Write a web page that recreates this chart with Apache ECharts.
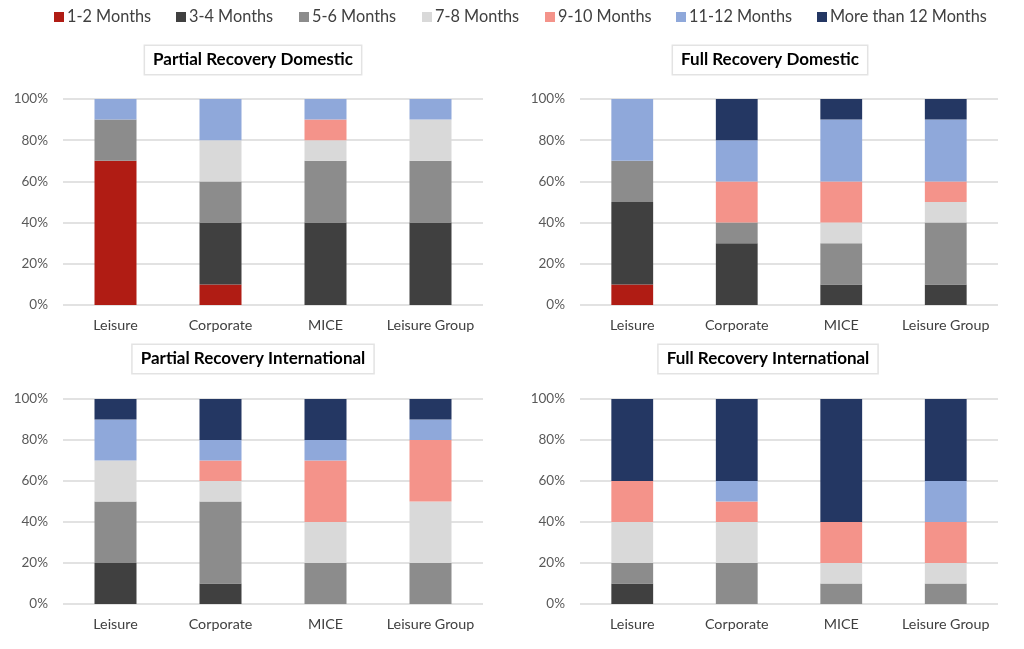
<!DOCTYPE html>
<html><head><meta charset="utf-8">
<script src="https://cdn.jsdelivr.net/npm/echarts@6/dist/echarts.min.js"></script>
<style>html,body{margin:0;padding:0;background:#fff}#c{width:1024px;height:649px}</style>
</head><body><div id="c"></div>
<script>
var categories = ['Leisure', 'Corporate', 'MICE', 'Leisure Group'];
var seriesNames = ['1-2 Months', '3-4 Months', '5-6 Months', '7-8 Months', '9-10 Months', '11-12 Months', 'More than 12 Months'];
var yTicks = [0, 20, 40, 60, 80, 100];
var panelTitles = ['Partial Recovery Domestic', 'Full Recovery Domestic', 'Partial Recovery International', 'Full Recovery International'];

// values per series, per category (Leisure, Corporate, MICE, Leisure Group)
var partialDomestic = {
  '1-2 Months':          [70, 10, 0, 0],
  '3-4 Months':          [0, 30, 40, 40],
  '5-6 Months':          [20, 20, 30, 30],
  '7-8 Months':          [0, 20, 10, 20],
  '9-10 Months':         [0, 0, 10, 0],
  '11-12 Months':        [10, 20, 10, 10],
  'More than 12 Months': [0, 0, 0, 0]
};
var fullDomestic = {
  '1-2 Months':          [10, 0, 0, 0],
  '3-4 Months':          [40, 30, 10, 10],
  '5-6 Months':          [20, 10, 20, 30],
  '7-8 Months':          [0, 0, 10, 10],
  '9-10 Months':         [0, 20, 20, 10],
  '11-12 Months':        [30, 20, 30, 30],
  'More than 12 Months': [0, 20, 10, 10]
};
var partialInternational = {
  '1-2 Months':          [0, 0, 0, 0],
  '3-4 Months':          [20, 10, 0, 0],
  '5-6 Months':          [30, 40, 20, 20],
  '7-8 Months':          [20, 10, 20, 30],
  '9-10 Months':         [0, 10, 30, 30],
  '11-12 Months':        [20, 10, 10, 10],
  'More than 12 Months': [10, 20, 20, 10]
};
var fullInternational = {
  '1-2 Months':          [0, 0, 0, 0],
  '3-4 Months':          [10, 0, 0, 0],
  '5-6 Months':          [10, 20, 10, 10],
  '7-8 Months':          [20, 20, 10, 10],
  '9-10 Months':         [20, 10, 20, 20],
  '11-12 Months':        [0, 10, 0, 20],
  'More than 12 Months': [40, 40, 60, 40]
};
var panels = [partialDomestic, fullDomestic, partialInternational, fullInternational];

var colors = ['#B01C14', '#404040', '#8C8C8C', '#D9D9D9', '#F4938A', '#8FA8DA', '#243763'];
var FONT = 'Lato, "Open Sans", sans-serif';

var gridPos = [
  {left: 63, top: 99, width: 420, height: 206},
  {left: 580, top: 99, width: 418, height: 206},
  {left: 63, top: 399, width: 420, height: 205},
  {left: 580, top: 399, width: 418, height: 205}
];
var titlePos = [[253, 60], [770, 60], [253, 359], [768, 359]];
var legendLeft = [49, 171, 294, 417, 540, 671, 812];

var xAxes = [], yAxes = [], series = [], legends = [], graphics = [];
gridPos.forEach(function (g, i) {
  xAxes.push({
    type: 'category', gridIndex: i, data: categories,
    axisLine: {show: false}, axisTick: {show: false},
    axisLabel: {interval: 0, hideOverlap: false, color: '#404040', fontSize: 14.3, fontFamily: FONT, margin: 13}
  });
  yAxes.push({
    type: 'value', gridIndex: i, min: 0, max: 100, interval: 20,
    axisLine: {show: false}, axisTick: {show: false},
    splitLine: {lineStyle: {color: '#D9D9D9', width: 1.5}},
    axisLabel: {color: '#595959', fontSize: 13.5, fontFamily: FONT, margin: 15,
      formatter: function (v) { return v + '%'; }}
  });
  seriesNames.forEach(function (n, k) {
    series.push({
      name: n, type: 'bar', stack: 's' + i, xAxisIndex: i, yAxisIndex: i,
      barWidth: '40%', data: panels[i][n], itemStyle: {color: colors[k]},
      emphasis: {disabled: true}
    });
  });
  graphics.push({
    type: 'text', x: titlePos[i][0], y: titlePos[i][1],
    style: {
      text: panelTitles[i], fontSize: 17, fontWeight: 'bold', fontFamily: FONT,
      fill: '#000', align: 'center', verticalAlign: 'middle',
      backgroundColor: '#fff', borderColor: '#E3E3E3', borderWidth: 1.5,
      padding: [6, 8, 5, 8]
    }
  });
});
seriesNames.forEach(function (n, k) {
  legends.push({
    data: [n], left: legendLeft[k], top: 4, itemWidth: 10, itemHeight: 10, itemGap: 4,
    icon: 'rect', selectedMode: false,
    textStyle: {fontSize: 16.3, color: '#404040', fontFamily: FONT, padding: [0, 0, 0, -2]}
  });
});

var chart = echarts.init(document.getElementById('c'));
chart.setOption({
  animation: false,
  backgroundColor: '#fff',
  legend: legends,
  grid: gridPos,
  xAxis: xAxes,
  yAxis: yAxes,
  series: series,
  graphic: graphics
});
</script></body></html>
